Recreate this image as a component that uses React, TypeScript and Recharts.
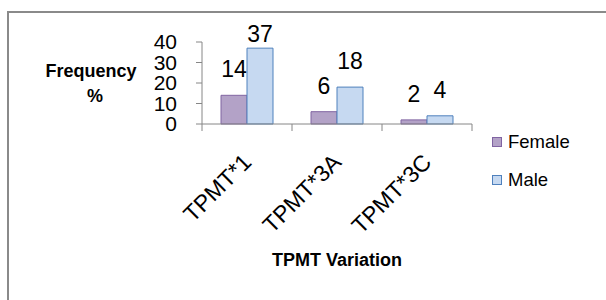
import { Bar, BarChart, LabelList, Label, Legend, XAxis, YAxis } from "recharts"

const categories = ["TPMT*1", "TPMT*3A", "TPMT*3C"]
const female = [14, 6, 2]
const male = [37, 18, 4]
const yTicks = [0, 10, 20, 30, 40]

const data = categories.map((name, i) => ({ name, female: female[i], male: male[i] }))

const W = 606
const H = 300
const margin = { top: 42, right: 134, bottom: 30, left: 10 }
const Y_W = 192
const X_H = 146
const PLOT_W = W - margin.left - margin.right - Y_W
const PLOT_TOP = margin.top
const PLOT_BOTTOM = H - margin.bottom - X_H

const font = "'Liberation Sans', Arial, sans-serif"
const axisGray = "#868686"

const colors = {
	female: { fill: "#b3a2c7", stroke: "#8064a2" },
	male: { fill: "#c6d9f1", stroke: "#4f81bd" },
}

// ticks sit on the category boundaries like excel does
function XTick(props: any) {
	const { x, payload, index } = props
	const half = PLOT_W / categories.length / 2
	return (
		<g>
			<line x1={x - half} x2={x - half} y1={PLOT_BOTTOM} y2={PLOT_BOTTOM + 7} stroke={axisGray} />
			{index === categories.length - 1 && (
				<line x1={x + half} x2={x + half} y1={PLOT_BOTTOM} y2={PLOT_BOTTOM + 7} stroke={axisGray} />
			)}
			<text
				transform={`translate(${x},${PLOT_BOTTOM + 34}) rotate(-45)`}
				textAnchor="end"
				dy="0.35em"
				fontSize={23}
				fontFamily={font}
				fill="#000"
			>
				{payload.value}
			</text>
		</g>
	)
}

// label sits 18px over the bar, pushed down to the plot top if it would go above
function BarLabel(props: any) {
	const { x, y, width, value } = props
	return (
		<text
			x={x + width / 2}
			y={Math.max(y - 18, PLOT_TOP)}
			textAnchor="middle"
			fontSize={23}
			fontFamily={font}
			fill="#000"
		>
			{value}
		</text>
	)
}

function LegendBox() {
	const items = [
		{ label: "Female", c: colors.female },
		{ label: "Male", c: colors.male },
	]
	return (
		<div style={{ fontFamily: font, fontSize: 18.5, color: "#000" }}>
			{items.map((it) => (
				<div key={it.label} style={{ display: "flex", alignItems: "center", height: 38 }}>
					<span
						style={{
							display: "inline-block",
							width: 8,
							height: 8,
							background: it.c.fill,
							border: `1px solid ${it.c.stroke}`,
							marginRight: 6,
						}}
					/>
					<span>{it.label}</span>
				</div>
			))}
		</div>
	)
}

export default function App() {
	return (
		<div style={{ position: "absolute", left: 0, top: 0, width: W, height: H, overflow: "hidden", background: "#fff" }}>
			<div
				style={{
					position: "absolute",
					left: 7,
					top: 11,
					width: W + 20,
					height: H + 20,
					borderTop: "2px solid #8a8a8a",
					borderLeft: "2px solid #8a8a8a",
				}}
			/>
			<BarChart
				width={W}
				height={H}
				data={data}
				margin={margin}
				barCategoryGap={19}
				barGap={0}
				style={{ position: "absolute", left: 0, top: 0 }}
			>
				<XAxis
					dataKey="name"
					height={X_H}
					axisLine={{ stroke: axisGray }}
					tickLine={false}
					tick={XTick}
					interval={0}
				>
					<Label
						content={({ viewBox }: any) => (
							<text
								x={viewBox.x + viewBox.width / 2}
								y={viewBox.y + 142}
								textAnchor="middle"
								fontSize={18}
								fontWeight="bold"
								fontFamily={font}
								fill="#000"
							>
								TPMT Variation
							</text>
						)}
					/>
				</XAxis>
				<YAxis
					width={Y_W}
					domain={[0, 40]}
					ticks={yTicks}
					interval={0}
					axisLine={{ stroke: axisGray }}
					tickLine={{ stroke: axisGray }}
					tickSize={6}
					tickMargin={19}
					tick={{ fill: "#000", fontSize: 21, fontFamily: font }}
				>
					<Label
						content={() => (
							<text textAnchor="middle" fontSize={18} fontWeight="bold" fontFamily={font} fill="#000">
								<tspan x={91} y={77}>Frequency</tspan>
								<tspan x={95} y={102}>%</tspan>
							</text>
						)}
					/>
				</YAxis>
				<Legend
					layout="vertical"
					align="center"
					verticalAlign="middle"
					content={() => <LegendBox />}
					wrapperStyle={{ left: 492, top: 123, width: 110 }}
				/>
				<Bar
					dataKey="female"
					name="Female"
					fill={colors.female.fill}
					stroke={colors.female.stroke}
					isAnimationActive={false}
				>
					<LabelList dataKey="female" content={BarLabel} />
				</Bar>
				<Bar
					dataKey="male"
					name="Male"
					fill={colors.male.fill}
					stroke={colors.male.stroke}
					isAnimationActive={false}
				>
					<LabelList dataKey="male" content={BarLabel} />
				</Bar>
			</BarChart>
		</div>
	)
}
